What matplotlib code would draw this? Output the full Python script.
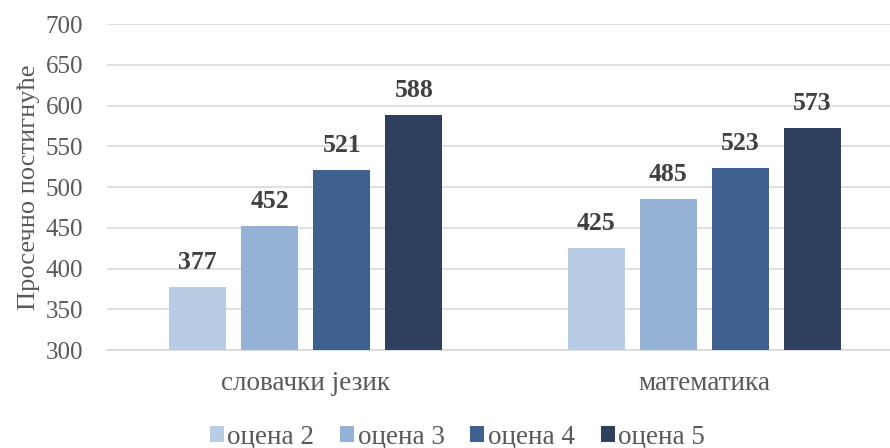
import numpy as np
import matplotlib.pyplot as plt

plt.rcParams['font.family'] = ['Liberation Serif', 'DejaVu Serif']

subjects = ['словачки језик', 'математика']
grades = ['оцена 2', 'оцена 3', 'оцена 4', 'оцена 5']
scores = [
    [377, 425],
    [452, 485],
    [521, 523],
    [588, 573],
]
colors = ['#B8CCE4', '#95B1D6', '#3E6190', '#2E405E']

fig = plt.figure(figsize=(8.9, 4.48), dpi=100)
# the plot area runs past the right edge of the picture, as in the original
ax = fig.add_axes([0.1197, 0.2185, 0.8955, 0.7275])

x = np.arange(len(subjects))
w = 0.143
pitch = 0.181
for i, (g, vals) in enumerate(zip(grades, scores)):
    pos = x + (i - 1.5) * pitch
    ax.bar(pos, np.array(vals) - 300, width=w, bottom=300,
           color=colors[i], label=g, zorder=3)
    for p, v in zip(pos, vals):
        ax.text(p, v + 16, str(v), ha='center', va='bottom',
                fontsize=18.5, fontweight='bold', color='#404040')

ax.set_ylim(300, 700)
ax.set_xlim(-0.5, 1.5)
ax.set_yticks(range(300, 701, 50))
ax.set_xticks(x)
ax.set_xticklabels(subjects, fontsize=19.5)
ax.yaxis.grid(True, color='#D9D9D9', linewidth=1.2, zorder=0)
for s in ['top', 'right', 'left']:
    ax.spines[s].set_visible(False)
ax.spines['bottom'].set_color('#D9D9D9')
ax.spines['bottom'].set_linewidth(1.2)
ax.tick_params(axis='both', length=0, labelcolor='#595959')
ax.tick_params(axis='y', labelsize=18, pad=17)
ax.tick_params(axis='x', pad=15)
ax.set_ylabel('Просечно постигнуће', fontsize=19, color='#595959', labelpad=4)

fig.legend(loc='center', bbox_to_anchor=(0.514, 0.024), ncol=4, frameon=False,
           fontsize=19.5, labelcolor='#595959', handlelength=0.52, handleheight=0.52,
           handletextpad=0.13, columnspacing=0.95)

fig.savefig('out.png', dpi=100)
